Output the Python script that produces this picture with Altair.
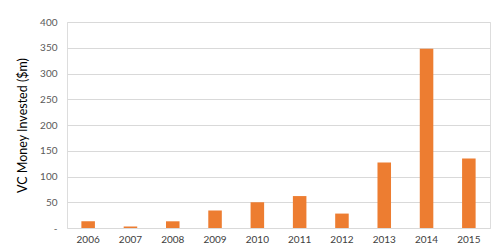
import altair as alt
import pandas as pd

years = ["2006", "2007", "2008", "2009", "2010", "2011", "2012", "2013", "2014", "2015"]
invested = [13, 3, 13, 34, 50, 62, 28, 127, 348, 135]

df = pd.DataFrame({"year": years, "value": invested})

chart = alt.Chart(df).mark_bar(color="#ED7D31").encode(
    x=alt.X("year:N", sort=years, title=None,
            scale=alt.Scale(paddingInner=0.68, paddingOuter=0.34),
            axis=alt.Axis(labelAngle=0, labelColor="#404040", labelFont="Lato",
                          labelFontSize=10, ticks=False, domain=False, labelPadding=6,
                          grid=False)),
    y=alt.Y("value:Q", title="VC Money Invested ($m)",
            scale=alt.Scale(domain=[0, 400], nice=False),
            axis=alt.Axis(values=[0, 50, 100, 150, 200, 250, 300, 350, 400],
                          labelExpr="datum.value == 0 ? '-' : datum.label",
                          labelColor="#595959", labelFont="Lato", labelFontSize=10,
                          ticks=False, domain=False, labelPadding=10,
                          gridColor="#d9d9d9", gridWidth=1,
                          titleFont="Lato", titleFontSize=12.5, titleFontWeight="normal",
                          titleColor="#000000", titlePadding=10)),
).properties(
    width=423, height=206,
    autosize=alt.AutoSizeParams(type="none"),
    padding={"left": 67, "top": 22, "right": 10, "bottom": 20},
).configure_view(stroke=None).configure(background="white")

chart.save("out.html", embed_options={"renderer": "svg", "actions": False})
